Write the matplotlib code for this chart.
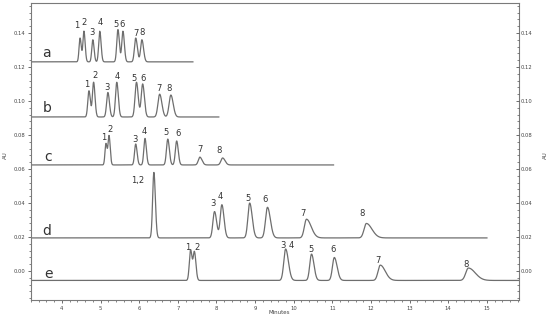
import numpy as np
import matplotlib
matplotlib.use("Agg")
import matplotlib.pyplot as plt
from matplotlib.ticker import MultipleLocator

# ---------------- data ----------------
trace_names = ["a", "b", "c", "d", "e"]

# baseline level (AU) and end of recorded run (min)
a_base, a_end = 0.1230, 7.39
b_base, b_end = 0.0906, 8.06
c_base, c_end = 0.0624, 11.03
d_base, d_end = 0.0195, 15.00
e_base, e_end = -0.0055, 15.83

# peaks: retention time (min), height above baseline (AU), width (sigma, min), tailing factor
a_rt = [4.47, 4.57, 4.80, 4.98, 5.45, 5.58, 5.91, 6.07]
a_h = [0.0140, 0.0180, 0.0130, 0.0180, 0.0190, 0.0180, 0.0140, 0.0130]
a_w = [0.026, 0.026, 0.027, 0.028, 0.030, 0.030, 0.033, 0.033]
a_t = [1.2, 1.2, 1.2, 1.2, 1.2, 1.2, 1.3, 1.3]

b_rt = [4.70, 4.82, 5.19, 5.42, 5.93, 6.09, 6.53, 6.82]
b_h = [0.0154, 0.0204, 0.0144, 0.0204, 0.0204, 0.0194, 0.0134, 0.0129]
b_w = [0.030, 0.030, 0.033, 0.033, 0.037, 0.037, 0.044, 0.046]
b_t = [1.2, 1.2, 1.2, 1.2, 1.2, 1.2, 1.3, 1.3]

c_rt = [5.14, 5.22, 5.91, 6.15, 6.74, 6.97, 7.57, 8.16]
c_h = [0.0126, 0.0170, 0.0123, 0.0156, 0.0152, 0.0141, 0.0046, 0.0041]
c_w = [0.025, 0.025, 0.030, 0.030, 0.034, 0.034, 0.040, 0.044]
c_t = [1.2, 1.2, 1.2, 1.2, 1.2, 1.2, 1.4, 1.4]

d_rt = [6.38, 7.95, 8.14, 8.86, 9.32, 10.33, 11.88]
d_h = [0.0385, 0.0155, 0.0195, 0.0205, 0.0180, 0.0110, 0.0085]
d_w = [0.032, 0.042, 0.042, 0.046, 0.050, 0.055, 0.060]
d_t = [1.2, 1.3, 1.3, 1.4, 1.5, 2.2, 2.4]

e_rt = [7.33, 7.43, 9.79, 10.46, 11.05, 12.24, 14.52]
e_h = [0.0180, 0.0165, 0.0185, 0.0155, 0.0135, 0.0090, 0.0073]
e_w = [0.032, 0.032, 0.048, 0.045, 0.048, 0.058, 0.068]
e_t = [1.2, 1.2, 1.5, 1.4, 1.5, 2.2, 2.6]

# peak labels and their positions (min, AU)
a_lab = ["1", "2", "3", "4", "5", "6", "7", "8"]
a_lx = [4.39, 4.57, 4.78, 4.98, 5.40, 5.55, 5.91, 6.07]
a_ly = [0.1441, 0.1459, 0.1400, 0.1459, 0.1447, 0.1447, 0.1394, 0.1400]

b_lab = ["1", "2", "3", "4", "5", "6", "7", "8"]
b_lx = [4.65, 4.85, 5.16, 5.42, 5.86, 6.09, 6.51, 6.77]
b_ly = [0.1094, 0.1147, 0.1082, 0.1141, 0.1135, 0.1135, 0.1076, 0.1071]

c_lab = ["1", "2", "3", "4", "5", "6", "7", "8"]
c_lx = [5.09, 5.24, 5.89, 6.12, 6.69, 7.00, 7.57, 8.08]
c_ly = [0.0788, 0.0835, 0.0776, 0.0818, 0.0812, 0.0806, 0.0712, 0.0706]

d_lab = ["1,2", "3", "4", "5", "6", "7", "8"]
d_lx = [5.96, 7.90, 8.11, 8.81, 9.27, 10.25, 11.78]
d_ly = [0.0535, 0.0400, 0.0441, 0.0429, 0.0418, 0.0341, 0.0341]

e_lab = ["1", "2", "3 4", "5", "6", "7", "8"]
e_lx = [7.26, 7.49, 9.84, 10.44, 11.03, 12.17, 14.47]
e_ly = [0.0141, 0.0141, 0.0153, 0.0129, 0.0129, 0.0065, 0.0041]

# trace letter positions
letter_x = [3.59, 3.61, 3.64, 3.61, 3.64]
letter_y = [0.1280, 0.0959, 0.0671, 0.0235, -0.0018]

y_ticks = [0.00, 0.02, 0.04, 0.06, 0.08, 0.10, 0.12, 0.14]
x_ticks = [4, 5, 6, 7, 8, 9, 10, 11, 12, 13, 14, 15]

# ---------------- drawing ----------------
X_MIN, X_MAX = 3.2, 15.83
Y_MIN, Y_MAX = -0.017, 0.1576
LINE = "#6e6e6e"
FRAME = "#7a7a7a"


def trace(base, end, rt, h, w, t):
    x = np.linspace(X_MIN, end, 4000)
    y = np.full_like(x, base)
    for r, hh, ww, tt in zip(rt, h, w, t):
        s = np.where(x < r, ww, ww * tt)
        y += hh * np.exp(-0.5 * ((x - r) / s) ** 2)
    return x, y


fig = plt.figure(figsize=(5.5, 3.19), dpi=100)
ax = fig.add_axes([31 / 550, 19 / 319, 488 / 550, 297 / 319])

traces = [
    (a_base, a_end, a_rt, a_h, a_w, a_t, a_lab, a_lx, a_ly),
    (b_base, b_end, b_rt, b_h, b_w, b_t, b_lab, b_lx, b_ly),
    (c_base, c_end, c_rt, c_h, c_w, c_t, c_lab, c_lx, c_ly),
    (d_base, d_end, d_rt, d_h, d_w, d_t, d_lab, d_lx, d_ly),
    (e_base, e_end, e_rt, e_h, e_w, e_t, e_lab, e_lx, e_ly),
]

for i, (base, end, rt, h, w, t, lab, lx, ly) in enumerate(traces):
    x, y = trace(base, end, rt, h, w, t)
    ax.plot(x, y, color=LINE, lw=0.9)
    for s, px, py in zip(lab, lx, ly):
        ax.text(px, py, s, fontsize=6, color="#333333", ha="center", va="center")
    ax.text(letter_x[i], letter_y[i], trace_names[i], fontsize=10, color="#333333",
            ha="center", va="center")

ax.set_xlim(X_MIN, X_MAX)
ax.set_ylim(Y_MIN, Y_MAX)
ax.set_xticks(x_ticks)
ax.set_yticks(y_ticks)
ax.set_yticklabels([f"{v:.2f}" for v in y_ticks])
ax.xaxis.set_minor_locator(MultipleLocator(0.2))
ax.yaxis.set_minor_locator(MultipleLocator(0.004))

for sp in ax.spines.values():
    sp.set_color(FRAME)
    sp.set_linewidth(0.8)

ax.tick_params(axis="both", which="major", labelsize=3.8, length=2.5, width=0.6,
               color="#555555", labelcolor="#444444", direction="out", pad=1.5)
ax.tick_params(axis="both", which="minor", length=1.5, width=0.5, color="#555555",
               direction="out")

ax2 = ax.twinx()
ax2.set_ylim(Y_MIN, Y_MAX)
ax2.set_yticks(y_ticks)
ax2.set_yticklabels([f"{v:.2f}" for v in y_ticks])
ax2.yaxis.set_minor_locator(MultipleLocator(0.004))
for sp in ax2.spines.values():
    sp.set_visible(False)
ax2.tick_params(axis="y", which="major", labelsize=3.8, length=2.5, width=0.6,
                color="#555555", labelcolor="#444444", direction="in", pad=1.5)
ax2.tick_params(axis="y", which="minor", length=1.5, width=0.5, color="#555555",
                direction="in")

fig.text(5 / 550, 1 - 155 / 319, "AU", fontsize=4, rotation=90, color="#444444",
         ha="center", va="center")
fig.text(545 / 550, 1 - 155 / 319, "AU", fontsize=4, rotation=90, color="#444444",
         ha="center", va="center")
fig.text(279 / 550, 1 - 313 / 319, "Minutes", fontsize=4, color="#444444",
         ha="center", va="center")

fig.savefig("out.png", dpi=100)
